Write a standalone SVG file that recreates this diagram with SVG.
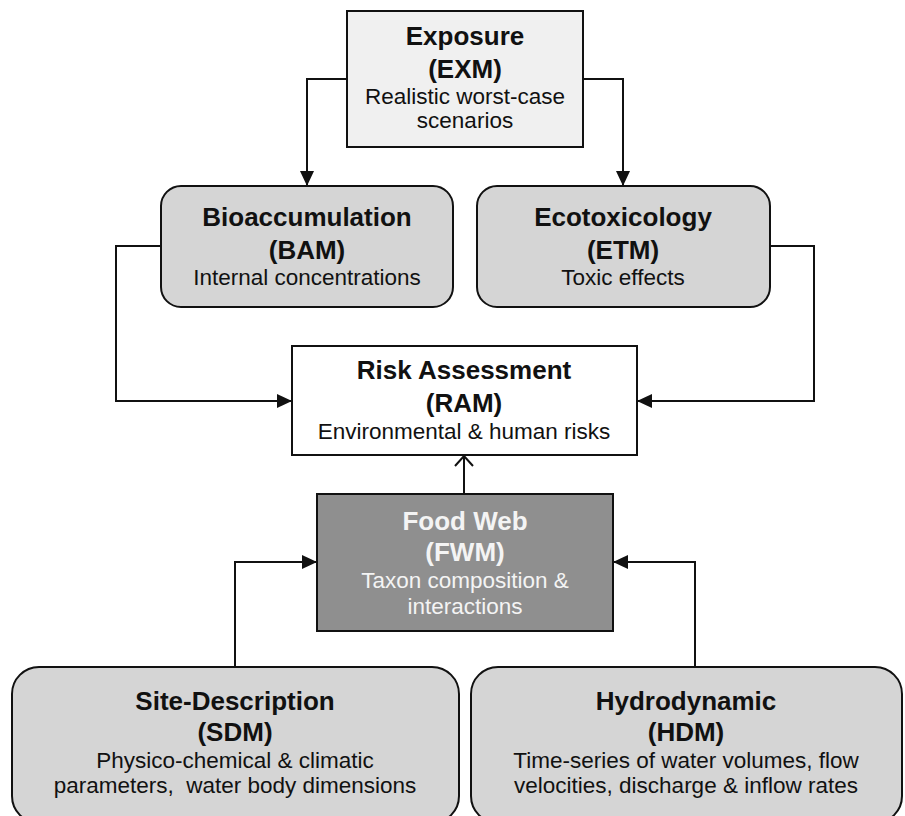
<svg xmlns="http://www.w3.org/2000/svg" width="905" height="816" viewBox="0 0 905 816">
<style>
text{font-family:"Liberation Sans",Arial,sans-serif;text-anchor:middle;fill:#111}
.t{font-weight:bold;font-size:26px}
.d{font-size:22.5px}
.box{stroke:#111;stroke-width:2}
.light{fill:#f0f0f0}
.mid{fill:#d5d5d5}
.white{fill:#fff}
.dark{fill:#8f8f8f}
.inv{fill:#f4f4f4}
.c{fill:none;stroke:#111;stroke-width:2}
</style>
<defs>
<marker id="ah" markerWidth="15" markerHeight="14" refX="15" refY="7" orient="auto" markerUnits="userSpaceOnUse">
<path d="M0,0 L15,7 L0,14 Z" fill="#111"/>
</marker>
<marker id="oa" markerWidth="12" markerHeight="20" refX="11" refY="10" orient="auto" markerUnits="userSpaceOnUse">
<path d="M1,1 L11,10 L1,19" fill="none" stroke="#111" stroke-width="2"/>
</marker>
</defs>
<g id="connectors">
<path class="c" d="M347,79 H307 V186" marker-end="url(#ah)"/>
<path class="c" d="M583,79 H623 V186" marker-end="url(#ah)"/>
<path class="c" d="M161,246 H116 V401 H292" marker-end="url(#ah)"/>
<path class="c" d="M770,246 H814 V401 H637" marker-end="url(#ah)"/>
<path class="c" d="M464,494 V456" marker-end="url(#oa)"/>
<path class="c" d="M235,667 V562 H317" marker-end="url(#ah)"/>
<path class="c" d="M695,667 V562 H613" marker-end="url(#ah)"/>
</g>
<g id="EXM">
<rect class="box light" x="347" y="11" width="236" height="136"/>
<text class="t" x="465" y="45">Exposure</text>
<text class="t" x="465" y="78">(EXM)</text>
<text class="d" x="465" y="104">Realistic worst-case</text>
<text class="d" x="465" y="128">scenarios</text>
</g>
<g id="BAM">
<rect class="box mid" x="161" y="186" width="292" height="121" rx="20"/>
<text class="t" x="307" y="226">Bioaccumulation</text>
<text class="t" x="307" y="259">(BAM)</text>
<text class="d" x="307" y="285">Internal concentrations</text>
</g>
<g id="ETM">
<rect class="box mid" x="477" y="186" width="293" height="121" rx="20"/>
<text class="t" x="623" y="226">Ecotoxicology</text>
<text class="t" x="623" y="259">(ETM)</text>
<text class="d" x="623" y="285">Toxic effects</text>
</g>
<g id="RAM">
<rect class="box white" x="292" y="346" width="345" height="109"/>
<text class="t" x="464" y="379">Risk Assessment</text>
<text class="t" x="464" y="412">(RAM)</text>
<text class="d" x="464" y="439">Environmental &amp; human risks</text>
</g>
<g id="FWM">
<rect class="box dark" x="317" y="494" width="296" height="137"/>
<text class="t inv" x="465" y="530">Food Web</text>
<text class="t inv" x="465" y="561">(FWM)</text>
<text class="d inv" x="465" y="588">Taxon composition &amp;</text>
<text class="d inv" x="465" y="614">interactions</text>
</g>
<g id="SDM">
<rect class="box mid" x="12" y="667" width="447" height="156" rx="27"/>
<text class="t" x="235" y="710">Site-Description</text>
<text class="t" x="235" y="741">(SDM)</text>
<text class="d" x="235" y="768">Physico-chemical &amp; climatic</text>
<text class="d" x="235" y="793" xml:space="preserve">parameters,  water body dimensions</text>
</g>
<g id="HDM">
<rect class="box mid" x="471" y="667" width="431" height="156" rx="27"/>
<text class="t" x="686" y="710">Hydrodynamic</text>
<text class="t" x="686" y="741">(HDM)</text>
<text class="d" x="686" y="768">Time-series of water volumes, flow</text>
<text class="d" x="686" y="793">velocities, discharge &amp; inflow rates</text>
</g>
</svg>
